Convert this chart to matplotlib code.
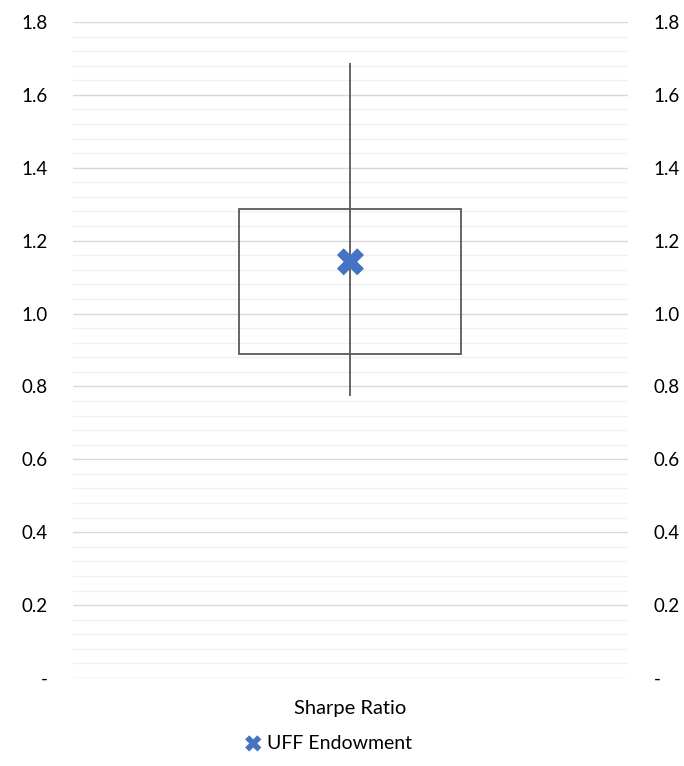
import numpy as np
import matplotlib
matplotlib.use("Agg")
import matplotlib.pyplot as plt
from matplotlib.ticker import MultipleLocator, FuncFormatter

# data
categories = ["Sharpe Ratio"]
whisker_low = [0.774]
box_low = [0.889]
box_high = [1.287]
whisker_high = [1.688]
endowment = [1.142]
series_name = "UFF Endowment"

plt.rcParams["font.family"] = ["Lato", "DejaVu Sans"]

fig = plt.figure(figsize=(6.84, 7.66), dpi=100)
ax = fig.add_axes([0.1067, 0.1149, 0.8113, 0.8564])

x = np.arange(len(categories))
lo = np.array(box_low)
hi = np.array(box_high)

# whisker, box and the endowment marker
ax.vlines(x, whisker_low, whisker_high, color="#595959", linewidth=1.3, zorder=2)
ax.bar(x, hi - lo, bottom=lo, width=0.4, facecolor="none",
       edgecolor="#595959", linewidth=1.3, zorder=3)
ax.scatter(x, endowment, marker="X", s=380, color="#4472C4",
           edgecolors="none", zorder=4, label=series_name)

ax.set_xlim(-0.5, 0.5)
ax.set_ylim(0, 1.8)
ax.yaxis.set_major_locator(MultipleLocator(0.2))
ax.yaxis.set_minor_locator(MultipleLocator(0.04))
ax.yaxis.set_major_formatter(FuncFormatter(lambda v, p: "-" if abs(v) < 1e-9 else f"{v:.1f}"))
ax.grid(which="major", axis="y", color="#d9d9d9", linewidth=1.0, zorder=0)
ax.grid(which="minor", axis="y", color="#f0f0f0", linewidth=1.0, zorder=0)
ax.set_axisbelow(True)

ax.set_xticks(x)
ax.set_xticklabels(categories)
ax.tick_params(axis="x", length=0, pad=16, labelsize=14.5, colors="#000000")
ax.tick_params(axis="y", which="both", left=False, right=False,
               labelleft=True, labelright=True, labelsize=13.5, colors="#000000")
ax.tick_params(axis="y", which="major", pad=15)

for s in ax.spines.values():
    s.set_visible(False)

fig.legend(loc="center", bbox_to_anchor=(0.472, 0.03), frameon=False,
           fontsize=14, handletextpad=-0.3, markerscale=0.6)

fig.savefig("out.png", dpi=100)
